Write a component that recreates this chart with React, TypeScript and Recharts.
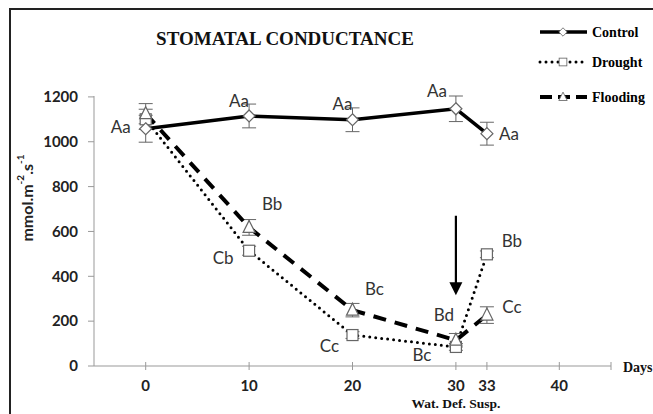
import React from 'react';
import {
  LineChart,
  Line,
  XAxis,
  YAxis,
  ErrorBar,
  LabelList,
  ReferenceLine,
  ReferenceDot,
  Legend,
} from 'recharts';

const days = [0, 10, 20, 30, 33];
const control = [1058, 1115, 1098, 1147, 1036];
const controlErr = [60, 53, 53, 57, 51];
const drought = [1100, 514, 138, 85, 498];
const droughtErr = [45, 20, 15, 15, 15];
const flooding = [1125, 618, 249, 115, 227];
const floodingErr = [45, 35, 30, 30, 37];

const controlLabels = ['Aa', 'Aa', 'Aa', 'Aa', 'Aa'];
const droughtLabels = ['', 'Cb', 'Cc', 'Bc', 'Bb'];
const floodingLabels = ['', 'Bb', 'Bc', 'Bd', 'Cc'];

const xTicks = [0, 10, 20, 30, 33, 40, 45];
const yTicks = [0, 200, 400, 600, 800, 1000, 1200];

// where each letter sits relative to its point
const controlOffsets = [[-25, -2], [-10, -15], [-10, -16], [-19, -18], [22, 0]];
const droughtOffsets = [[0, 0], [-26, 7], [-23, 10], [-34, 8], [25, -14]];
const floodingOffsets = [[0, 0], [23, -24], [22, -22], [-12, -26], [25, -9]];

const data = days.map((d, i) => ({
  day: d,
  control: control[i],
  controlErr: controlErr[i],
  controlLbl: controlLabels[i],
  drought: drought[i],
  droughtErr: droughtErr[i],
  droughtLbl: droughtLabels[i],
  flooding: flooding[i],
  floodingErr: floodingErr[i],
  floodingLbl: floodingLabels[i],
}));

const MARK = '#666';
const SERIF = '"Liberation Serif", "Times New Roman", serif';
const SANS = 'Lato, "Open Sans", sans-serif';

const Diamond = ({ cx, cy }: any) => (
  <path
    d={`M${cx},${cy - 6} L${cx + 6},${cy} L${cx},${cy + 6} L${cx - 6},${cy} Z`}
    fill="#fff"
    stroke={MARK}
    strokeWidth={1.2}
  />
);

const Square = ({ cx, cy }: any) => (
  <rect x={cx - 5.5} y={cy - 5.5} width={11} height={11} fill="#fff" stroke={MARK} strokeWidth={1.2} />
);

const Triangle = ({ cx, cy }: any) => (
  <path
    d={`M${cx},${cy - 7} L${cx + 6},${cy + 5} L${cx - 6},${cy + 5} Z`}
    fill="#fff"
    stroke={MARK}
    strokeWidth={1.2}
  />
);

const dotOf = (Shape: any) => (p: any) => <Shape key={`d-${p.index}`} cx={p.cx} cy={p.cy} />;

const letterLabel = (offsets: number[][]) => (props: any) => {
  const { x, y, index, value } = props;
  if (!value) return null;
  const [dx, dy] = offsets[index];
  return (
    <text
      key={`l-${index}`}
      x={x + dx}
      y={y + dy}
      textAnchor="middle"
      dominantBaseline="central"
      fontFamily={SANS}
      fontSize={17}
      fill="#333"
    >
      {value}
    </text>
  );
};

const XTick = ({ x, y, payload }: any) => (
  <g>
    <line x1={x} x2={x} y1={y - 4} y2={y + 4} stroke="#999" />
    {payload.value !== 45 && (
      <text x={x} y={y + 19} textAnchor="middle" dominantBaseline="central" fontFamily={SANS} fontWeight={700} fontSize={15} fill="#222">
        {payload.value}
      </text>
    )}
  </g>
);

const ArrowHead = ({ cx, cy }: any) => (
  <path d={`M${cx},${cy} L${cx + 6.5},${cy - 13} L${cx - 6.5},${cy - 13} Z`} fill="#000" />
);

const LegendBox = () => {
  const rows = [
    { name: 'Control', y: 17, dash: undefined, w: 3.5, Shape: Diamond },
    { name: 'Drought', y: 47, dash: '0 6', w: 3, Shape: Square },
    { name: 'Flooding', y: 82, dash: '12 6', w: 4, Shape: Triangle },
  ];
  return (
    <svg width={125} height={100}>
      {rows.map((r) => (
        <g key={r.name}>
          <line
            x1={5}
            x2={52}
            y1={r.y}
            y2={r.y}
            stroke="#000"
            strokeWidth={r.w}
            strokeDasharray={r.dash}
            strokeLinecap={r.dash === '0 6' ? 'round' : 'butt'}
          />
          <g transform={`translate(${28},${r.y}) scale(0.7) translate(${-28},${-r.y})`}>
            <r.Shape cx={28} cy={r.y} />
          </g>
          <text x={57} y={r.y} dominantBaseline="central" fontFamily={SERIF} fontWeight={700} fontSize={14} fill="#000">
            {r.name}
          </text>
        </g>
      ))}
    </svg>
  );
};

export default function App() {
  return (
    <div style={{ position: 'fixed', left: 0, top: 0, width: 653, height: 414, background: '#fff', overflow: 'hidden' }}>
      <div
        style={{
          position: 'absolute',
          left: 9,
          top: 8,
          width: 700,
          height: 500,
          borderTop: '2px solid #222',
          borderLeft: '2px solid #222',
        }}
      />
      <LineChart
        width={653}
        height={414}
        data={data}
        margin={{ top: 96, right: 42, bottom: 18, left: 34 }}
        style={{ position: 'absolute', left: 0, top: 0 }}
      >
        <XAxis
          dataKey="day"
          type="number"
          domain={[-5, 45]}
          ticks={xTicks}
          interval={0}
          height={30}
          tickLine={false}
          tickSize={0}
          tickMargin={0}
          tick={<XTick />}
          axisLine={{ stroke: '#999' }}
        />
        <YAxis
          domain={[0, 1200]}
          ticks={yTicks}
          width={60}
          tickSize={6}
          tickMargin={10}
          axisLine={{ stroke: '#999' }}
          tickLine={{ stroke: '#999' }}
          tick={{ fontFamily: SANS, fontWeight: 700, fontSize: 15, fill: '#222' }}
        />
        <Legend
          layout="vertical"
          verticalAlign="middle"
          align="center"
          wrapperStyle={{ top: 15, left: 535, width: 125 }}
          content={<LegendBox />}
        />
        <ReferenceLine
          segment={[{ x: 30, y: 670 }, { x: 30, y: 340 }]}
          stroke="#000"
          strokeWidth={2.2}
        />
        <ReferenceDot x={30} y={316} shape={<ArrowHead />} />
        <Line
          dataKey="drought"
          stroke="#000"
          strokeWidth={3}
          strokeDasharray="0 6"
          strokeLinecap="round"
          dot={dotOf(Square)}
          isAnimationActive={false}
        >
          <ErrorBar dataKey="droughtErr" direction="y" width={7} stroke={MARK} strokeWidth={1} />
          <LabelList dataKey="droughtLbl" content={letterLabel(droughtOffsets)} />
        </Line>
        <Line
          dataKey="flooding"
          stroke="#000"
          strokeWidth={4}
          strokeDasharray="13 9"
          dot={dotOf(Triangle)}
          isAnimationActive={false}
        >
          <ErrorBar dataKey="floodingErr" direction="y" width={7} stroke={MARK} strokeWidth={1} />
          <LabelList dataKey="floodingLbl" content={letterLabel(floodingOffsets)} />
        </Line>
        <Line
          dataKey="control"
          stroke="#000"
          strokeWidth={3.5}
          dot={dotOf(Diamond)}
          isAnimationActive={false}
        >
          <ErrorBar dataKey="controlErr" direction="y" width={7} stroke={MARK} strokeWidth={1} />
          <LabelList dataKey="controlLbl" content={letterLabel(controlOffsets)} />
        </Line>
      </LineChart>
      <svg width={653} height={414} style={{ position: 'absolute', left: 0, top: 0, pointerEvents: 'none' }}>
        <text x={285} y={45} textAnchor="middle" fontFamily={SERIF} fontWeight={700} fontSize={19} fill="#111">
          STOMATAL CONDUCTANCE
        </text>
        <text
          transform="translate(26,198) rotate(-90)"
          textAnchor="middle"
          dominantBaseline="central"
          fontFamily={SANS}
          fontWeight={700}
          fontSize={16}
          fill="#222"
        >
          mmol.m<tspan dy={-6} fontSize={10}>-2</tspan>
          <tspan dy={6}>.s</tspan>
          <tspan dy={-6} fontSize={10}>-1</tspan>
        </text>
        <text x={623} y={372} fontFamily={SERIF} fontWeight={700} fontSize={14} fill="#111">
          Days
        </text>
        <text x={456} y={408} textAnchor="middle" fontFamily={SERIF} fontWeight={700} fontSize={13.5} fill="#111">
          Wat. Def. Susp.
        </text>
      </svg>
    </div>
  );
}
